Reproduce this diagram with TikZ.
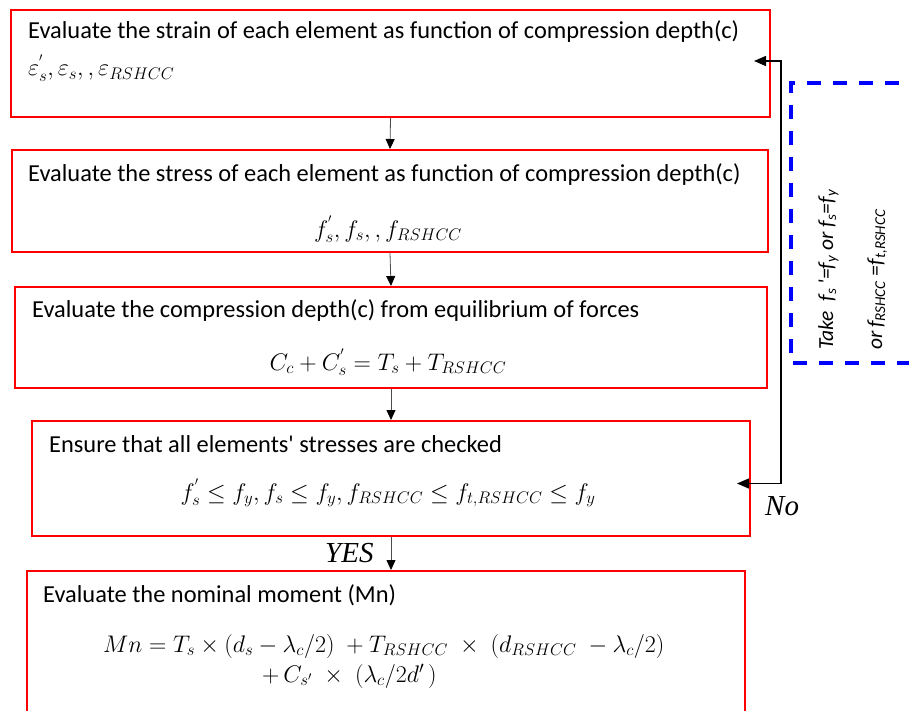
\RequirePackage{fix-cm}
\documentclass[tikz,border=0pt]{standalone}
\usepackage{fontspec}
\setmainfont{Carlito}
\newfontfamily\labelfont{Liberation Serif}
\usetikzlibrary{arrows.meta}

\tikzset{
  stepbox/.style={draw=red, line width=2pt, anchor=north west, inner sep=0pt},
  boxtext/.style={anchor=base west, inner sep=0pt, font=\fontsize{24.4}{28}\selectfont},
  boxmath/.style={anchor=base, inner sep=0pt, font=\fontsize{24}{28}\selectfont},
  flowarrow/.style={draw=black!70, line width=0.8pt, -{Triangle[width=9pt,length=10pt,color=black]}},
  backarrow/.style={draw=black, line width=1.4pt, {Triangle[width=10pt,length=12pt]}-{Triangle[width=10pt,length=12pt]}},
  yesno/.style={anchor=base west, inner sep=0pt, font=\labelfont\itshape\fontsize{29}{32}\selectfont},
  sidetext/.style={anchor=base west, inner sep=0pt, rotate=90, font=\itshape\fontsize{21.5}{24}\selectfont}
}

\begin{document}
\begin{tikzpicture}[x=1pt,y=-1pt]
  \path[use as bounding box, clip] (0,0) rectangle (909,711);

  % Box 1: strain
  \node[stepbox, minimum width=759pt, minimum height=107pt] (b1) at (10,9) {};
  \node[boxtext] (t1) at (28,39) {Evaluate the strain of each element as function of compression depth(c)};
  \node[boxtext, font=\fontsize{24}{28}\selectfont] (m1) at (28,76) {$\varepsilon_s^{'}, \varepsilon_s, , \varepsilon_{RSHCC}$};

  % Box 2: stress
  \node[stepbox, minimum width=756pt, minimum height=102pt] (b2) at (11,149) {};
  \node[boxtext] (t2) at (28,182) {Evaluate the stress of each element as function of compression depth(c)};
  \node[boxmath] (m2) at (388,237) {$f_s^{'}, f_s, , f_{RSHCC}$};

  % Box 3: equilibrium
  \node[stepbox, minimum width=752pt, minimum height=101pt] (b3) at (14,286) {};
  \node[boxtext] (t3) at (32,317) {Evaluate the compression depth(c) from equilibrium of forces};
  \node[boxmath] (m3) at (388,370) {$C_c + C_s^{'} = T_s + T_{RSHCC}$};

  % Box 4: check
  \node[stepbox, minimum width=718pt, minimum height=115pt] (b4) at (31,420) {};
  \node[boxtext] (t4) at (49,452) {Ensure that all elements\textquotesingle{} stresses are checked};
  \node[boxmath] (m4) at (388,500) {$f_s^{'} \leq f_y, f_s \leq f_y, f_{RSHCC} \leq f_{t,RSHCC} \leq f_y$};

  % Box 5: nominal moment (runs off the page)
  \node[stepbox, minimum width=718pt, minimum height=180pt] (b5) at (26,570) {};
  \node[boxtext] (t5) at (43,602) {Evaluate the nominal moment (Mn)};
  \node[boxtext, align=left, font=\fontsize{24}{30}\selectfont] (m5) at (103,682)
    {$Mn = T_s \times (d_s - \lambda_c/2)\; + T_{RSHCC}\; \times\; (d_{RSHCC}\; - \lambda_c/2)$\\
     \hspace*{159pt}$+\, C_{s'}\; \times\; (\lambda_c/2d'\,)$};

  % Down arrows
  \foreach \a/\b in {b1/b2, b2/b3, b3/b4}
    \draw[flowarrow] (\a.south) -- (\b.north);
  \draw[flowarrow] (b4.south) -- (b4.south |- b5.north);
  \node[yesno] (yes) at (325,562) {YES};

  % Feedback loop
  \coordinate (turn) at (781,300);
  \coordinate (fb4) at ([xshift=-14pt,yshift=-5pt]b4.east);
  \coordinate (fb1) at ([xshift=-17pt,yshift=2.5pt]b1.east);
  \draw[backarrow] (fb4) -- (fb4 -| turn) -- (fb1 -| turn) -- (fb1);
  \node[yesno] (no) at (765,515) {No};

  % Dashed note
  \draw[blue, line width=3.5pt, dash pattern=on 14pt off 12pt] (925,83) -- (791,83) -- (791,363) -- (925,363);
  \node[sidetext] (take) at (833,350) {Take\ \ \textit{f}\textsubscript{s}\,\textquotesingle=\textit{f}\textsubscript{y} or \textit{f}\textsubscript{s}=\textit{f}\textsubscript{y}};
  \node[sidetext] (orf) at (882,350) {or\,\textit{f}\textsubscript{RSHCC} =\textit{f}\textsubscript{t,RSHCC}};
\end{tikzpicture}
\end{document}
